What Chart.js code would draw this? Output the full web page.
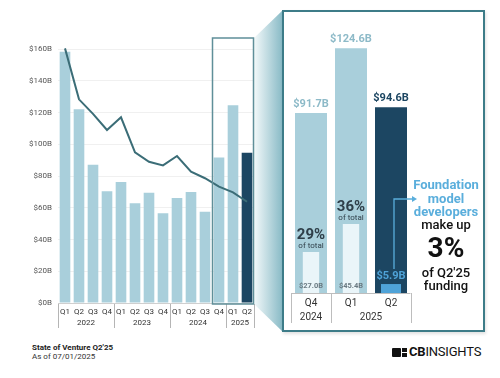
<!DOCTYPE html>
<html>
<head>
<meta charset="utf-8">
<script src="https://cdn.jsdelivr.net/npm/chart.js@4.4.1/dist/chart.umd.min.js"></script>
<style>
  html, body { margin: 0; padding: 0; background: #fff; }
  #wrap { position: relative; width: 500px; height: 378px; overflow: hidden; font-family: Roboto, "Noto Sans", Arial, sans-serif; }
  #leftBox { position: absolute; left: 0; top: 0; width: 260px; height: 340px; }
  #wedge { position: absolute; left: 0; top: 0; width: 500px; height: 378px; }
  #bigBox { position: absolute; left: 282px; top: 10px; width: 203px; height: 322px; box-sizing: border-box; border: 2px solid #3d7c88; background: #fff; box-shadow: 1px 2px 3px rgba(0,0,0,0.12); }
  #rightBox { position: absolute; left: 282px; top: 10px; width: 203px; height: 322px; }
  .note { position: absolute; font-size: 8px; color: #222; line-height: 9px; }
  #logo { position: absolute; left: 392px; top: 345px; height: 14px; display: flex; align-items: center; }
  #logo .ic { position: relative; width: 15px; height: 9px; margin-right: 2px; }
  #logo .ic .a { position: absolute; left: 0; top: 0; width: 9px; height: 9px; background: #111; border-radius: 1px; }
  #logo .ic .b { position: absolute; left: 10px; top: 0; width: 5px; height: 4px; background: #111; }
  #logo .ic .c { position: absolute; left: 10px; top: 5px; width: 5px; height: 4px; background: #111; }
  #logo .t { font-size: 13px; color: #111; letter-spacing: -0.2px; line-height: 14px; }
</style>
</head>
<body>
<div id="wrap">
  <svg id="wedge" width="500" height="378">
    <defs>
      <linearGradient id="wg" x1="254" y1="0" x2="283" y2="0" gradientUnits="userSpaceOnUse">
        <stop offset="0" stop-color="#f3f9fa"/>
        <stop offset="1" stop-color="#86b9c5"/>
      </linearGradient>
    </defs>
    <polygon points="254,38 283,10 283,332 254,304" fill="url(#wg)"/>
  </svg>
  <div id="leftBox"><canvas id="leftChart"></canvas></div>
  <div id="bigBox"></div>
  <div id="rightBox"><canvas id="rightChart"></canvas></div>
  <div class="note" style="left:32px; top:343px; font-weight:bold;">State of Venture Q2'25</div>
  <div class="note" style="left:32px; top:352px; color:#333;">As of 07/01/2025</div>
  <div id="logo"><div class="ic"><div class="a"></div><div class="b"></div><div class="c"></div></div><span class="t"><b>CB</b>INSIGHTS</span></div>
</div>
<script>
// ---------- data ----------
const quarters = ['Q1','Q2','Q3','Q4','Q1','Q2','Q3','Q4','Q1','Q2','Q3','Q4','Q1','Q2'];
const years = ['2022','2023','2024','2025'];
const yearSpans = [4, 4, 4, 2];
const fundingB = [158.3, 122.0, 87.1, 70.4, 76.2, 62.8, 69.5, 56.5, 66.1, 69.9, 57.5, 91.7, 124.6, 94.6];
const trendLine = [160.4, 128.3, 119.1, 109.0, 117.0, 94.9, 89.0, 86.7, 92.6, 82.7, 78.6, 73.3, 69.7, 63.8];
const yTicks = [0, 20, 40, 60, 80, 100, 120, 140, 160];

const zoomQuarters = ['Q4', 'Q1', 'Q2'];
const zoomYears = ['2024', '2025'];
const zoomYearSpans = [1, 2];
const zoomTotals = [91.7, 124.6, 94.6];
const zoomTotalLabels = ['$91.7B', '$124.6B', '$94.6B'];
const aiFunding = [27.0, 45.4, null];
const aiFundingLabels = ['$27.0B', '$45.4B', ''];
const aiShare = ['29%', '36%', ''];
const foundationModel = [null, null, 5.9];
const foundationLabel = '$5.9B';

const LIGHT = '#a9cfdb';
const DARK = '#1c4662';
const LINE = '#3b6d77';
const FM_BLUE = '#4fa3d8';

// ---------- left chart ----------
const leftDecor = {
  id: 'leftDecor',
  afterDraw(chart) {
    const ctx = chart.ctx, xs = chart.scales.x, ca = chart.chartArea;
    const half = (xs.getPixelForValue(1) - xs.getPixelForValue(0)) / 2;
    ctx.save();
    ctx.strokeStyle = '#cfcfcf'; ctx.lineWidth = 1;
    ctx.beginPath(); ctx.moveTo(ca.left, ca.bottom + 0.5); ctx.lineTo(ca.right, ca.bottom + 0.5); ctx.stroke();
    ctx.strokeStyle = '#b5b5b5';
    ctx.font = '8px Roboto, "Noto Sans", sans-serif';
    ctx.fillStyle = '#333'; ctx.textAlign = 'center'; ctx.textBaseline = 'middle';
    let idx = 0;
    const edges = [];
    years.forEach((yr, i) => {
      const startX = xs.getPixelForValue(idx) - half;
      const endX = xs.getPixelForValue(idx + yearSpans[i] - 1) + half;
      edges.push(startX); if (i === years.length - 1) edges.push(endX);
      ctx.fillText(yr, (startX + endX) / 2, ca.bottom + 20);
      idx += yearSpans[i];
    });
    edges.forEach(e => {
      const x = Math.round(e) + 0.5;
      ctx.beginPath(); ctx.moveTo(x, ca.bottom + 1); ctx.lineTo(x, ca.bottom + 25); ctx.stroke();
    });
    const rx0 = xs.getPixelForValue(11) - half;
    const rx1 = xs.getPixelForValue(13) + half;
    ctx.strokeStyle = '#5f8f99'; ctx.lineWidth = 1.5;
    ctx.strokeRect(rx0 + 0.5, ca.top - 11, rx1 - rx0 - 1, ca.bottom - ca.top + 12);
    ctx.restore();
  }
};

new Chart(document.getElementById('leftChart'), {
  type: 'bar',
  data: {
    labels: quarters,
    datasets: [
      {
        type: 'line', data: trendLine, borderColor: LINE, borderWidth: 2,
        pointRadius: 0, tension: 0, clip: false, order: 0
      },
      {
        type: 'bar', data: fundingB,
        backgroundColor: fundingB.map((v, i) => i === fundingB.length - 1 ? DARK : LIGHT),
        barPercentage: 0.76, categoryPercentage: 1, order: 1
      }
    ]
  },
  options: {
    responsive: true, maintainAspectRatio: false, animation: false,
    layout: { padding: { top: 49, right: 6, left: 0, bottom: 0 } },
    plugins: { legend: { display: false }, tooltip: { enabled: false } },
    scales: {
      x: {
        grid: { display: false, drawTicks: false, tickLength: 0 }, border: { display: false },
        ticks: { font: { size: 8, family: 'Roboto' }, color: '#333', padding: 4, maxRotation: 0, autoSkip: false },
        afterFit(s) { s.height = 37; }
      },
      y: {
        min: 0, max: 160,
        afterBuildTicks(s) { s.ticks = yTicks.map(v => ({ value: v })); },
        ticks: { font: { size: 8, family: 'Roboto' }, color: '#555', padding: 6, callback: v => '$' + v + 'B' },
        grid: { color: '#f0f0f0', drawTicks: false }, border: { display: false },
        afterFit(s) { s.width = 58; }
      }
    }
  },
  plugins: [leftDecor]
});

// ---------- right chart ----------
const rightDecor = {
  id: 'rightDecor',
  afterDraw(chart) {
    const ctx = chart.ctx, xs = chart.scales.x, ca = chart.chartArea;
    const half = (xs.getPixelForValue(1) - xs.getPixelForValue(0)) / 2;
    const totalMeta = chart.getDatasetMeta(0);
    const aiMeta = chart.getDatasetMeta(1);
    const fmMeta = chart.getDatasetMeta(2);
    const F = 'Roboto, "Noto Sans", sans-serif';
    ctx.save();
    ctx.textAlign = 'center'; ctx.textBaseline = 'middle';
    totalMeta.data.forEach((bar, i) => {
      ctx.font = 'bold 11px ' + F;
      ctx.fillStyle = i === 2 ? DARK : '#8dbac8';
      ctx.fillText(zoomTotalLabels[i], bar.x, bar.y - 9);
    });
    aiMeta.data.forEach((bar, i) => {
      if (aiFunding[i] == null) return;
      ctx.fillStyle = '#2e3e48';
      ctx.font = 'bold 15px ' + F;
      ctx.fillText(aiShare[i], bar.x, bar.y - 17);
      ctx.font = '8px ' + F;
      ctx.fillText('of total', bar.x, bar.y - 6);
      ctx.font = 'bold 7.5px ' + F;
      ctx.fillStyle = '#6a7a82';
      ctx.fillText(aiFundingLabels[i], bar.x, ca.bottom - 6.5);
    });
    const fb = fmMeta.data[2];
    ctx.font = 'bold 11px ' + F;
    ctx.fillStyle = FM_BLUE;
    ctx.fillText(foundationLabel, fb.x, fb.y - 8);
    const ax = fb.x + 3;
    const ay = 189;
    ctx.strokeStyle = '#5aaedc'; ctx.lineWidth = 1.3;
    ctx.beginPath(); ctx.moveTo(ax, fb.y - 15); ctx.lineTo(ax, ay); ctx.lineTo(ax + 19, ay); ctx.stroke();
    ctx.fillStyle = '#5aaedc';
    ctx.beginPath(); ctx.moveTo(ax + 23, ay); ctx.lineTo(ax + 18, ay - 3); ctx.lineTo(ax + 18, ay + 3); ctx.closePath(); ctx.fill();
    const tx = 164;
    ctx.font = 'bold 13px ' + F; ctx.fillStyle = '#5aaedc';
    ctx.fillText('Foundation', tx, 176);
    ctx.fillText('model', tx, 189.5);
    ctx.fillText('developers', tx, 202.5);
    ctx.fillStyle = '#111';
    ctx.font = '500 13px ' + F;
    ctx.fillText('make up', tx, 216);
    ctx.font = 'bold 28px ' + F;
    ctx.fillText('3%', tx, 240);
    ctx.font = '500 13px ' + F;
    ctx.fillText("of Q2'25", tx, 263.5);
    ctx.fillText('funding', tx, 276.5);
    ctx.strokeStyle = '#bdbdbd'; ctx.lineWidth = 1;
    const L = Math.round(ca.left) + 0.5, R = Math.round(ca.right) - 0.5, B = Math.round(ca.bottom) + 0.5;
    ctx.beginPath(); ctx.moveTo(L, B); ctx.lineTo(R, B); ctx.stroke();
    let idx = 0;
    const edges = [];
    ctx.font = '10px ' + F; ctx.fillStyle = '#333';
    zoomYears.forEach((yr, i) => {
      const s0 = xs.getPixelForValue(idx) - half;
      const s1 = xs.getPixelForValue(idx + zoomYearSpans[i] - 1) + half;
      edges.push(s0); if (i === zoomYears.length - 1) edges.push(s1);
      ctx.fillText(yr, (s0 + s1) / 2, ca.bottom + 24);
      idx += zoomYearSpans[i];
    });
    edges.forEach(e => {
      const x = Math.round(e) + 0.5;
      ctx.beginPath(); ctx.moveTo(x, ca.bottom); ctx.lineTo(x, ca.bottom + 30); ctx.stroke();
    });
    ctx.restore();
  }
};

new Chart(document.getElementById('rightChart'), {
  type: 'bar',
  data: {
    labels: zoomQuarters,
    datasets: [
      {
        data: zoomTotals, yAxisID: 'y', grouped: false, order: 2,
        backgroundColor: zoomTotals.map((v, i) => i === 2 ? DARK : LIGHT),
        barPercentage: 0.8, categoryPercentage: 1
      },
      {
        data: aiFunding, yAxisID: 'y2', grouped: false, order: 1,
        backgroundColor: '#eaf5f9', barPercentage: 0.41, categoryPercentage: 1
      },
      {
        data: foundationModel, yAxisID: 'y2', grouped: false, order: 0,
        backgroundColor: FM_BLUE, barPercentage: 0.5, categoryPercentage: 1
      }
    ]
  },
  options: {
    responsive: true, maintainAspectRatio: false, animation: false,
    layout: { padding: { top: 8, right: 74, left: 9, bottom: 0 } },
    plugins: { legend: { display: false }, tooltip: { enabled: false } },
    scales: {
      x: {
        grid: { display: false, drawTicks: false, tickLength: 0 }, border: { display: false },
        ticks: { font: { size: 10, family: 'Roboto' }, color: '#333', padding: 4, maxRotation: 0, autoSkip: false },
        afterFit(s) { s.height = 39; }
      },
      y: { display: false, min: 0, max: 140 },
      y2: { display: false, min: 0, max: 181 }
    }
  },
  plugins: [rightDecor]
});
</script>
</body>
</html>
